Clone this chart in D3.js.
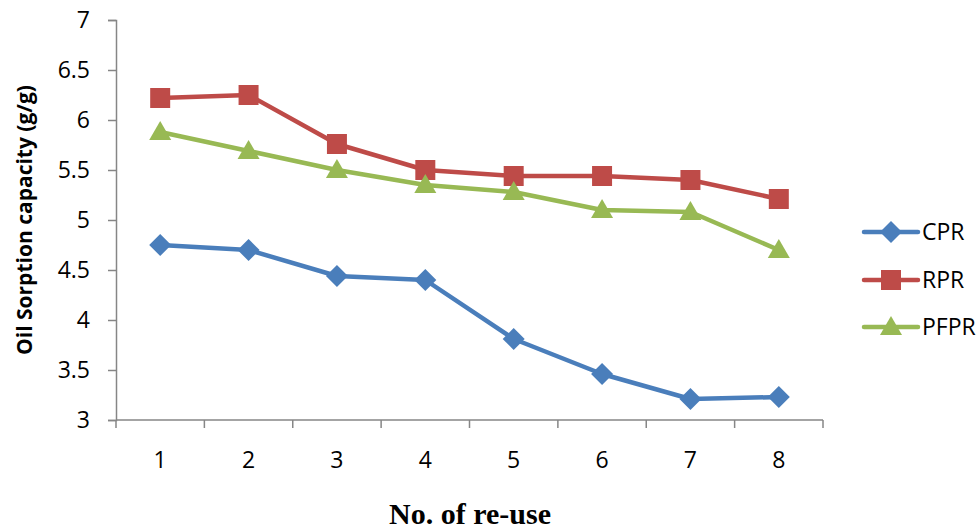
<!DOCTYPE html>
<html>
<head>
<meta charset="utf-8">
<script src="https://cdn.jsdelivr.net/npm/d3@7"></script>
<style>
  html, body { margin: 0; padding: 0; background: #fff; }
  svg { display: block; }
</style>
</head>
<body>
<svg id="chart" width="979" height="532"></svg>
<script>
// Re-use cycles and oil sorption capacity (g/g) per sorbent
const reuse = [1, 2, 3, 4, 5, 6, 7, 8];
const cpr  = [4.75, 4.70, 4.44, 4.40, 3.81, 3.46, 3.21, 3.23];
const rpr  = [6.22, 6.25, 5.76, 5.50, 5.44, 5.44, 5.40, 5.21];
const pfpr = [5.88, 5.69, 5.50, 5.35, 5.28, 5.10, 5.08, 4.70];
const yTicks = [3, 3.5, 4, 4.5, 5, 5.5, 6, 6.5, 7];

const series = [
  { name: "CPR",  values: cpr,  color: "#4a7ebb", symbol: "diamond" },
  { name: "RPR",  values: rpr,  color: "#be4b48", symbol: "square" },
  { name: "PFPR", values: pfpr, color: "#98b954", symbol: "triangle" }
];

const svg = d3.select("#chart");
const plot = { left: 116, right: 823, top: 20, bottom: 420 };
const axisColor = "#868686";
const labelFont = "'Open Sans', 'DejaVu Sans', sans-serif";

const x = d3.scaleBand().domain(reuse).range([plot.left, plot.right]);
const y = d3.scaleLinear().domain([3, 7]).range([plot.bottom, plot.top]);
const cx = d => x(d) + x.bandwidth() / 2;

// Y axis
const yAxis = svg.append("g")
  .attr("transform", `translate(${plot.left},0)`)
  .call(d3.axisLeft(y).tickValues(yTicks).tickSize(8).tickPadding(18)
    .tickFormat(d => String(d)));
yAxis.select(".domain").attr("stroke", axisColor).attr("stroke-width", 1.5);
yAxis.selectAll(".tick line").attr("stroke", axisColor).attr("stroke-width", 1.5);
yAxis.selectAll(".tick text")
  .attr("font-family", labelFont).attr("font-size", 23).attr("fill", "#000");

// X axis: ticks between categories
const xAxis = svg.append("g")
  .attr("transform", `translate(0,${plot.bottom})`);
xAxis.append("line")
  .attr("x1", plot.left).attr("x2", plot.right)
  .attr("stroke", axisColor).attr("stroke-width", 1.5);
const boundaries = reuse.map(d => x(d)).concat([x(reuse[reuse.length - 1]) + x.bandwidth()]);
xAxis.selectAll("line.tick").data(boundaries).join("line")
  .attr("class", "tick")
  .attr("x1", d => d).attr("x2", d => d)
  .attr("y1", 0).attr("y2", 8)
  .attr("stroke", axisColor).attr("stroke-width", 1.5);
xAxis.selectAll("text").data(reuse).join("text")
  .attr("x", d => cx(d)).attr("y", 48)
  .attr("text-anchor", "middle")
  .attr("font-family", labelFont).attr("font-size", 23).attr("fill", "#000")
  .text(d => d);

// Axis titles
svg.append("text")
  .attr("transform", `translate(32,${(plot.top + plot.bottom) / 2}) rotate(-90)`)
  .attr("text-anchor", "middle")
  .attr("font-family", labelFont).attr("font-weight", "bold").attr("font-size", 21)
  .attr("fill", "#000")
  .text("Oil Sorption capacity (g/g)");

svg.append("text")
  .attr("x", 470).attr("y", 524)
  .attr("text-anchor", "middle")
  .attr("font-family", "'Liberation Serif', 'Times New Roman', serif")
  .attr("font-weight", "bold").attr("font-size", 30).attr("fill", "#000")
  .text("No. of re-use");

// Marker shapes
function markerPath(kind) {
  if (kind === "diamond") return "M0,-11L11,0L0,11L-11,0Z";
  if (kind === "square") return "M-10,-10H10V10H-10Z";
  return "M0,-11L11,8H-11Z";
}

const line = d3.line().x((v, i) => cx(reuse[i])).y(v => y(v));

series.forEach(s => {
  const g = svg.append("g");
  g.append("path")
    .attr("d", line(s.values))
    .attr("fill", "none")
    .attr("stroke", s.color)
    .attr("stroke-width", 4.5)
    .attr("stroke-linejoin", "round");
  g.selectAll("path.mark").data(s.values).join("path")
    .attr("class", "mark")
    .attr("transform", (v, i) => `translate(${cx(reuse[i])},${y(v)})`)
    .attr("d", markerPath(s.symbol))
    .attr("fill", s.color);
});

// Legend
const legend = svg.append("g");
const legendY = [232, 280, 327];
series.forEach((s, i) => {
  const row = legend.append("g").attr("transform", `translate(0,${legendY[i]})`);
  row.append("line")
    .attr("x1", 864).attr("x2", 918)
    .attr("stroke", s.color).attr("stroke-width", 4.5).attr("stroke-linecap", "round");
  row.append("path")
    .attr("transform", "translate(891,0)")
    .attr("d", markerPath(s.symbol))
    .attr("fill", s.color);
  row.append("text")
    .attr("x", 922).attr("y", 8)
    .attr("font-family", labelFont).attr("font-size", 23).attr("fill", "#000")
    .text(s.name);
});
</script>
</body>
</html>
